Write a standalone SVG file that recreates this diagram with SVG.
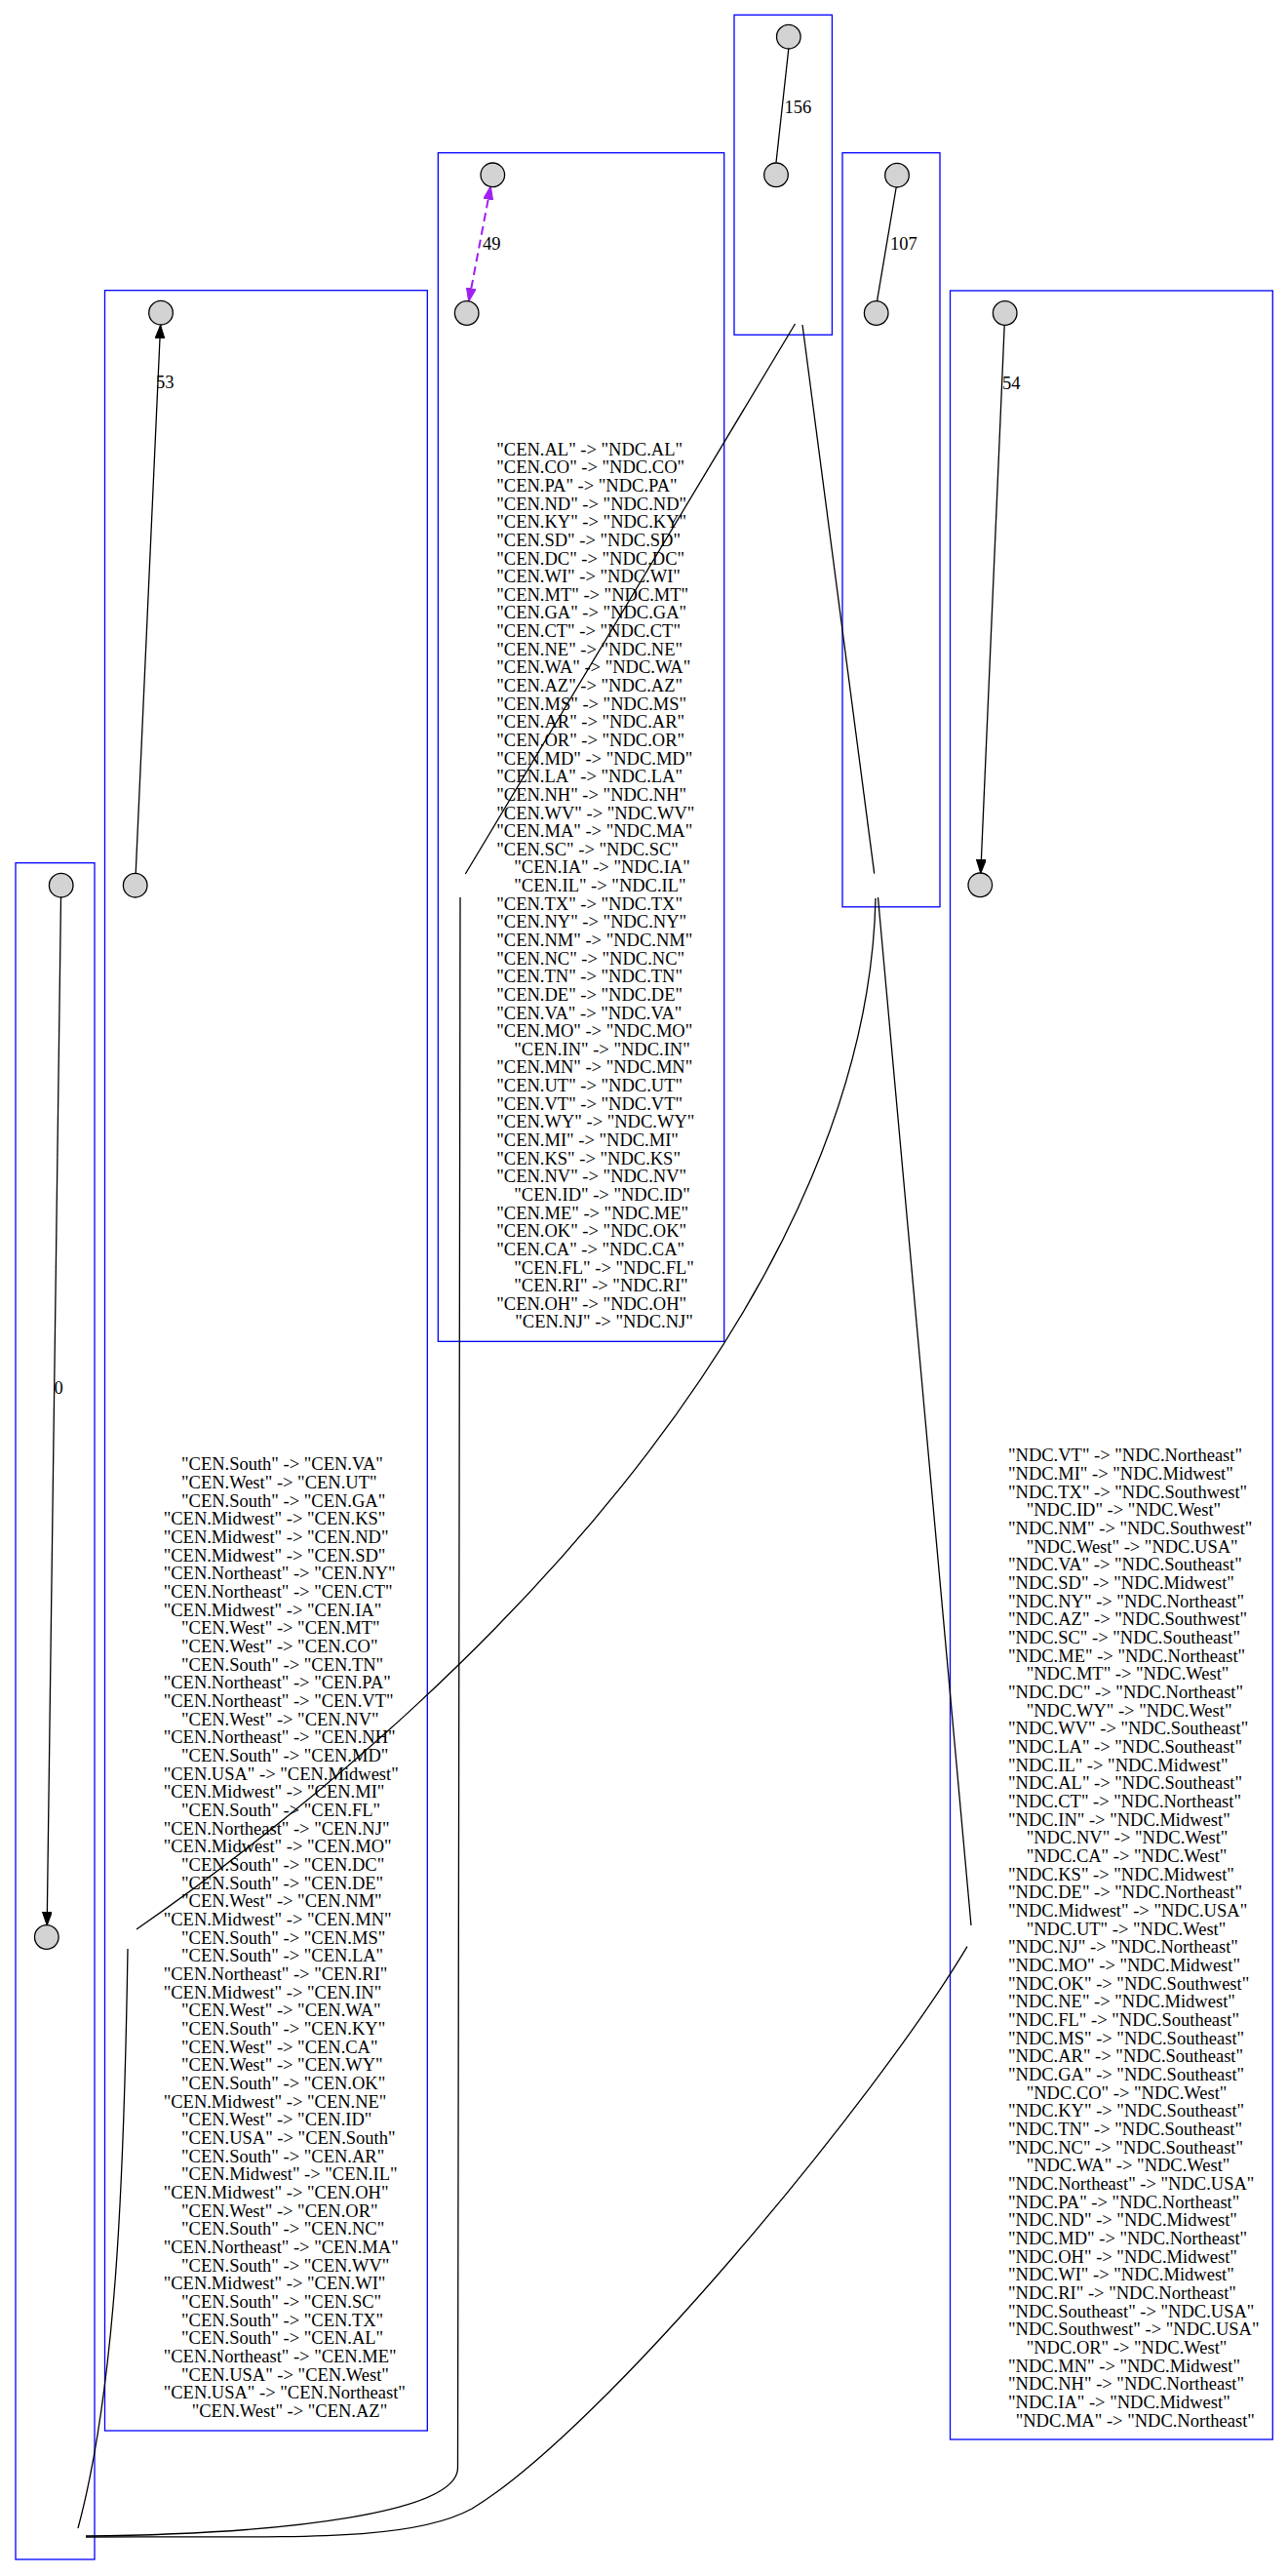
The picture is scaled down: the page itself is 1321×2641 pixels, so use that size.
<svg xmlns="http://www.w3.org/2000/svg" width="1321" height="2641" viewBox="0 0 1321 2641">
<style>
.cl{fill:none;stroke:#0000ff;stroke-width:1.3}
.nd{fill:#d3d3d3;stroke:#000;stroke-width:1.3}
.ed{fill:none;stroke:#000;stroke-width:1.3}
.pu{fill:none;stroke:#a020f0;stroke-width:2;stroke-dasharray:9,5}
.t{font-family:"Liberation Serif","Times New Roman",serif;font-size:18.5px;fill:#000}
</style>
<defs>
<marker id="arr" viewBox="0 0 14 10" refX="14" refY="5" markerWidth="14" markerHeight="10" markerUnits="userSpaceOnUse" orient="auto"><path d="M0,0 L14,5 L0,10 z" fill="#000" stroke="#000" stroke-width="1"/></marker>
<marker id="parr" viewBox="0 0 14 10" refX="14" refY="5" markerWidth="14" markerHeight="10" markerUnits="userSpaceOnUse" orient="auto-start-reverse"><path d="M0,0 L14,5 L0,10 z" fill="#a020f0" stroke="#a020f0" stroke-width="1"/></marker>
</defs>
<rect width="1321" height="2641" fill="#fff"/>
<g id="clusters">
<rect id="cluster_A" class="cl" x="16" y="884.7" width="81" height="1739.3"/>
<rect id="cluster_53" class="cl" x="107.5" y="297.7" width="330.8" height="2194.3"/>
<rect id="cluster_B" class="cl" x="449.3" y="156.7" width="293.4" height="1218.6"/>
<rect id="cluster_156" class="cl" x="753" y="15.3" width="100.4" height="328"/>
<rect id="cluster_107" class="cl" x="864" y="156.7" width="100" height="773.1"/>
<rect id="cluster_NDC" class="cl" x="974.5" y="298" width="330.8" height="2203"/>
</g>
<g id="connectors">
<path class="ed" d="M808.8,50 L796,166.8"/>
<path class="ed" d="M919.2,192 L899.5,308.8"/>
<path class="pu" d="M503.3,190.7 L480.7,309.3" marker-start="url(#parr)" marker-end="url(#parr)"/>
<path class="ed" d="M139.2,895.5 L164.6,333.3" marker-end="url(#arr)"/>
<path class="ed" d="M1030.2,333.3 L1005.8,895.3" marker-end="url(#arr)"/>
<path class="ed" d="M62.5,920 L48.2,1974" marker-end="url(#arr)"/>
<path class="ed" d="M815.5,332 L477.3,896"/>
<path class="ed" d="M472,920 L469.5,2530 C469.5,2575 300,2598 88,2600"/>
<path class="ed" d="M823,333 L896.7,895.7"/>
<path class="ed" d="M898,921 C890,1300 540,1700 140,1978"/>
<path class="ed" d="M131,1998 C127,2250 118,2450 80,2592"/>
<path class="ed" d="M900.5,920 L996,1974"/>
<path class="ed" d="M992,1995.7 C900,2150 620,2490 484,2572 C420,2607 300,2600 88,2601"/>
<text class="t" x="804.5" y="115.5">156</text>
<text class="t" x="495" y="256">49</text>
<text class="t" x="913" y="256">107</text>
<text class="t" x="160" y="398">53</text>
<text class="t" x="1028" y="398.5">54</text>
<text class="t" x="55.5" y="1429">0</text>
</g>
<g id="n156a"><circle class="nd" cx="808.8" cy="37.7" r="12.3"/></g>
<g id="n156b"><circle class="nd" cx="796" cy="179.3" r="12.3"/></g>
<g id="n49a"><circle class="nd" cx="505.3" cy="179.3" r="12.3"/></g>
<g id="n49b"><circle class="nd" cx="478.7" cy="321" r="12.3"/></g>
<g id="n107a"><circle class="nd" cx="920" cy="179.7" r="12.3"/></g>
<g id="n107b"><circle class="nd" cx="898.7" cy="321" r="12.3"/></g>
<g id="n53a"><circle class="nd" cx="165" cy="320.7" r="12.3"/></g>
<g id="n53b"><circle class="nd" cx="138.7" cy="907.7" r="12.3"/></g>
<g id="n54a"><circle class="nd" cx="1030.7" cy="321" r="12.3"/></g>
<g id="n54b"><circle class="nd" cx="1005.3" cy="907.3" r="12.3"/></g>
<g id="n0a"><circle class="nd" cx="62.7" cy="907.7" r="12.3"/></g>
<g id="n0b"><circle class="nd" cx="47.8" cy="1986" r="12.3"/></g>
<g id="label_CEN_NDC">
<text class="t" y="466.7">
<tspan x="509.3">"CEN.AL" -&gt; "NDC.AL"</tspan>
<tspan x="509.3" dy="18.64">"CEN.CO" -&gt; "NDC.CO"</tspan>
<tspan x="509.3" dy="18.64">"CEN.PA" -&gt; "NDC.PA"</tspan>
<tspan x="509.3" dy="18.64">"CEN.ND" -&gt; "NDC.ND"</tspan>
<tspan x="509.3" dy="18.64">"CEN.KY" -&gt; "NDC.KY"</tspan>
<tspan x="509.3" dy="18.64">"CEN.SD" -&gt; "NDC.SD"</tspan>
<tspan x="509.3" dy="18.64">"CEN.DC" -&gt; "NDC.DC"</tspan>
<tspan x="509.3" dy="18.64">"CEN.WI" -&gt; "NDC.WI"</tspan>
<tspan x="509.3" dy="18.64">"CEN.MT" -&gt; "NDC.MT"</tspan>
<tspan x="509.3" dy="18.64">"CEN.GA" -&gt; "NDC.GA"</tspan>
<tspan x="509.3" dy="18.64">"CEN.CT" -&gt; "NDC.CT"</tspan>
<tspan x="509.3" dy="18.64">"CEN.NE" -&gt; "NDC.NE"</tspan>
<tspan x="509.3" dy="18.64">"CEN.WA" -&gt; "NDC.WA"</tspan>
<tspan x="509.3" dy="18.64">"CEN.AZ" -&gt; "NDC.AZ"</tspan>
<tspan x="509.3" dy="18.64">"CEN.MS" -&gt; "NDC.MS"</tspan>
<tspan x="509.3" dy="18.64">"CEN.AR" -&gt; "NDC.AR"</tspan>
<tspan x="509.3" dy="18.64">"CEN.OR" -&gt; "NDC.OR"</tspan>
<tspan x="509.3" dy="18.64">"CEN.MD" -&gt; "NDC.MD"</tspan>
<tspan x="509.3" dy="18.64">"CEN.LA" -&gt; "NDC.LA"</tspan>
<tspan x="509.3" dy="18.64">"CEN.NH" -&gt; "NDC.NH"</tspan>
<tspan x="509.3" dy="18.64">"CEN.WV" -&gt; "NDC.WV"</tspan>
<tspan x="509.3" dy="18.64">"CEN.MA" -&gt; "NDC.MA"</tspan>
<tspan x="509.3" dy="18.64">"CEN.SC" -&gt; "NDC.SC"</tspan>
<tspan x="527.3" dy="18.64">"CEN.IA" -&gt; "NDC.IA"</tspan>
<tspan x="527.3" dy="18.64">"CEN.IL" -&gt; "NDC.IL"</tspan>
<tspan x="509.3" dy="18.64">"CEN.TX" -&gt; "NDC.TX"</tspan>
<tspan x="509.3" dy="18.64">"CEN.NY" -&gt; "NDC.NY"</tspan>
<tspan x="509.3" dy="18.64">"CEN.NM" -&gt; "NDC.NM"</tspan>
<tspan x="509.3" dy="18.64">"CEN.NC" -&gt; "NDC.NC"</tspan>
<tspan x="509.3" dy="18.64">"CEN.TN" -&gt; "NDC.TN"</tspan>
<tspan x="509.3" dy="18.64">"CEN.DE" -&gt; "NDC.DE"</tspan>
<tspan x="509.3" dy="18.64">"CEN.VA" -&gt; "NDC.VA"</tspan>
<tspan x="509.3" dy="18.64">"CEN.MO" -&gt; "NDC.MO"</tspan>
<tspan x="527.3" dy="18.64">"CEN.IN" -&gt; "NDC.IN"</tspan>
<tspan x="509.3" dy="18.64">"CEN.MN" -&gt; "NDC.MN"</tspan>
<tspan x="509.3" dy="18.64">"CEN.UT" -&gt; "NDC.UT"</tspan>
<tspan x="509.3" dy="18.64">"CEN.VT" -&gt; "NDC.VT"</tspan>
<tspan x="509.3" dy="18.64">"CEN.WY" -&gt; "NDC.WY"</tspan>
<tspan x="509.3" dy="18.64">"CEN.MI" -&gt; "NDC.MI"</tspan>
<tspan x="509.3" dy="18.64">"CEN.KS" -&gt; "NDC.KS"</tspan>
<tspan x="509.3" dy="18.64">"CEN.NV" -&gt; "NDC.NV"</tspan>
<tspan x="527.3" dy="18.64">"CEN.ID" -&gt; "NDC.ID"</tspan>
<tspan x="509.3" dy="18.64">"CEN.ME" -&gt; "NDC.ME"</tspan>
<tspan x="509.3" dy="18.64">"CEN.OK" -&gt; "NDC.OK"</tspan>
<tspan x="509.3" dy="18.64">"CEN.CA" -&gt; "NDC.CA"</tspan>
<tspan x="527.3" dy="18.64">"CEN.FL" -&gt; "NDC.FL"</tspan>
<tspan x="527.3" dy="18.64">"CEN.RI" -&gt; "NDC.RI"</tspan>
<tspan x="509.3" dy="18.64">"CEN.OH" -&gt; "NDC.OH"</tspan>
<tspan x="528.3" dy="18.64">"CEN.NJ" -&gt; "NDC.NJ"</tspan>
</text>
</g>
<g id="label_CEN">
<text class="t" y="1507.3">
<tspan x="186">"CEN.South" -&gt; "CEN.VA"</tspan>
<tspan x="186" dy="18.67">"CEN.West" -&gt; "CEN.UT"</tspan>
<tspan x="186" dy="18.67">"CEN.South" -&gt; "CEN.GA"</tspan>
<tspan x="167.7" dy="18.67">"CEN.Midwest" -&gt; "CEN.KS"</tspan>
<tspan x="167.7" dy="18.67">"CEN.Midwest" -&gt; "CEN.ND"</tspan>
<tspan x="167.7" dy="18.67">"CEN.Midwest" -&gt; "CEN.SD"</tspan>
<tspan x="167.7" dy="18.67">"CEN.Northeast" -&gt; "CEN.NY"</tspan>
<tspan x="167.7" dy="18.67">"CEN.Northeast" -&gt; "CEN.CT"</tspan>
<tspan x="167.7" dy="18.67">"CEN.Midwest" -&gt; "CEN.IA"</tspan>
<tspan x="186" dy="18.67">"CEN.West" -&gt; "CEN.MT"</tspan>
<tspan x="186" dy="18.67">"CEN.West" -&gt; "CEN.CO"</tspan>
<tspan x="186" dy="18.67">"CEN.South" -&gt; "CEN.TN"</tspan>
<tspan x="167.7" dy="18.67">"CEN.Northeast" -&gt; "CEN.PA"</tspan>
<tspan x="167.7" dy="18.67">"CEN.Northeast" -&gt; "CEN.VT"</tspan>
<tspan x="186" dy="18.67">"CEN.West" -&gt; "CEN.NV"</tspan>
<tspan x="167.7" dy="18.67">"CEN.Northeast" -&gt; "CEN.NH"</tspan>
<tspan x="186" dy="18.67">"CEN.South" -&gt; "CEN.MD"</tspan>
<tspan x="167.7" dy="18.67">"CEN.USA" -&gt; "CEN.Midwest"</tspan>
<tspan x="167.7" dy="18.67">"CEN.Midwest" -&gt; "CEN.MI"</tspan>
<tspan x="186" dy="18.67">"CEN.South" -&gt; "CEN.FL"</tspan>
<tspan x="167.7" dy="18.67">"CEN.Northeast" -&gt; "CEN.NJ"</tspan>
<tspan x="167.7" dy="18.67">"CEN.Midwest" -&gt; "CEN.MO"</tspan>
<tspan x="186" dy="18.67">"CEN.South" -&gt; "CEN.DC"</tspan>
<tspan x="186" dy="18.67">"CEN.South" -&gt; "CEN.DE"</tspan>
<tspan x="186" dy="18.67">"CEN.West" -&gt; "CEN.NM"</tspan>
<tspan x="167.7" dy="18.67">"CEN.Midwest" -&gt; "CEN.MN"</tspan>
<tspan x="186" dy="18.67">"CEN.South" -&gt; "CEN.MS"</tspan>
<tspan x="186" dy="18.67">"CEN.South" -&gt; "CEN.LA"</tspan>
<tspan x="167.7" dy="18.67">"CEN.Northeast" -&gt; "CEN.RI"</tspan>
<tspan x="167.7" dy="18.67">"CEN.Midwest" -&gt; "CEN.IN"</tspan>
<tspan x="186" dy="18.67">"CEN.West" -&gt; "CEN.WA"</tspan>
<tspan x="186" dy="18.67">"CEN.South" -&gt; "CEN.KY"</tspan>
<tspan x="186" dy="18.67">"CEN.West" -&gt; "CEN.CA"</tspan>
<tspan x="186" dy="18.67">"CEN.West" -&gt; "CEN.WY"</tspan>
<tspan x="186" dy="18.67">"CEN.South" -&gt; "CEN.OK"</tspan>
<tspan x="167.7" dy="18.67">"CEN.Midwest" -&gt; "CEN.NE"</tspan>
<tspan x="186" dy="18.67">"CEN.West" -&gt; "CEN.ID"</tspan>
<tspan x="186" dy="18.67">"CEN.USA" -&gt; "CEN.South"</tspan>
<tspan x="186" dy="18.67">"CEN.South" -&gt; "CEN.AR"</tspan>
<tspan x="186" dy="18.67">"CEN.Midwest" -&gt; "CEN.IL"</tspan>
<tspan x="167.7" dy="18.67">"CEN.Midwest" -&gt; "CEN.OH"</tspan>
<tspan x="186" dy="18.67">"CEN.West" -&gt; "CEN.OR"</tspan>
<tspan x="186" dy="18.67">"CEN.South" -&gt; "CEN.NC"</tspan>
<tspan x="167.7" dy="18.67">"CEN.Northeast" -&gt; "CEN.MA"</tspan>
<tspan x="186" dy="18.67">"CEN.South" -&gt; "CEN.WV"</tspan>
<tspan x="167.7" dy="18.67">"CEN.Midwest" -&gt; "CEN.WI"</tspan>
<tspan x="186" dy="18.67">"CEN.South" -&gt; "CEN.SC"</tspan>
<tspan x="186" dy="18.67">"CEN.South" -&gt; "CEN.TX"</tspan>
<tspan x="186" dy="18.67">"CEN.South" -&gt; "CEN.AL"</tspan>
<tspan x="167.7" dy="18.67">"CEN.Northeast" -&gt; "CEN.ME"</tspan>
<tspan x="186" dy="18.67">"CEN.USA" -&gt; "CEN.West"</tspan>
<tspan x="167.7" dy="18.67">"CEN.USA" -&gt; "CEN.Northeast"</tspan>
<tspan x="196.7" dy="18.67">"CEN.West" -&gt; "CEN.AZ"</tspan>
</text>
</g>
<g id="label_NDC">
<text class="t" y="1498.3">
<tspan x="1034">"NDC.VT" -&gt; "NDC.Northeast"</tspan>
<tspan x="1034" dy="18.67">"NDC.MI" -&gt; "NDC.Midwest"</tspan>
<tspan x="1034" dy="18.67">"NDC.TX" -&gt; "NDC.Southwest"</tspan>
<tspan x="1052.7" dy="18.67">"NDC.ID" -&gt; "NDC.West"</tspan>
<tspan x="1034" dy="18.67">"NDC.NM" -&gt; "NDC.Southwest"</tspan>
<tspan x="1052.7" dy="18.67">"NDC.West" -&gt; "NDC.USA"</tspan>
<tspan x="1034" dy="18.67">"NDC.VA" -&gt; "NDC.Southeast"</tspan>
<tspan x="1034" dy="18.67">"NDC.SD" -&gt; "NDC.Midwest"</tspan>
<tspan x="1034" dy="18.67">"NDC.NY" -&gt; "NDC.Northeast"</tspan>
<tspan x="1034" dy="18.67">"NDC.AZ" -&gt; "NDC.Southwest"</tspan>
<tspan x="1034" dy="18.67">"NDC.SC" -&gt; "NDC.Southeast"</tspan>
<tspan x="1034" dy="18.67">"NDC.ME" -&gt; "NDC.Northeast"</tspan>
<tspan x="1052.7" dy="18.67">"NDC.MT" -&gt; "NDC.West"</tspan>
<tspan x="1034" dy="18.67">"NDC.DC" -&gt; "NDC.Northeast"</tspan>
<tspan x="1052.7" dy="18.67">"NDC.WY" -&gt; "NDC.West"</tspan>
<tspan x="1034" dy="18.67">"NDC.WV" -&gt; "NDC.Southeast"</tspan>
<tspan x="1034" dy="18.67">"NDC.LA" -&gt; "NDC.Southeast"</tspan>
<tspan x="1034" dy="18.67">"NDC.IL" -&gt; "NDC.Midwest"</tspan>
<tspan x="1034" dy="18.67">"NDC.AL" -&gt; "NDC.Southeast"</tspan>
<tspan x="1034" dy="18.67">"NDC.CT" -&gt; "NDC.Northeast"</tspan>
<tspan x="1034" dy="18.67">"NDC.IN" -&gt; "NDC.Midwest"</tspan>
<tspan x="1052.7" dy="18.67">"NDC.NV" -&gt; "NDC.West"</tspan>
<tspan x="1052.7" dy="18.67">"NDC.CA" -&gt; "NDC.West"</tspan>
<tspan x="1034" dy="18.67">"NDC.KS" -&gt; "NDC.Midwest"</tspan>
<tspan x="1034" dy="18.67">"NDC.DE" -&gt; "NDC.Northeast"</tspan>
<tspan x="1034" dy="18.67">"NDC.Midwest" -&gt; "NDC.USA"</tspan>
<tspan x="1052.7" dy="18.67">"NDC.UT" -&gt; "NDC.West"</tspan>
<tspan x="1034" dy="18.67">"NDC.NJ" -&gt; "NDC.Northeast"</tspan>
<tspan x="1034" dy="18.67">"NDC.MO" -&gt; "NDC.Midwest"</tspan>
<tspan x="1034" dy="18.67">"NDC.OK" -&gt; "NDC.Southwest"</tspan>
<tspan x="1034" dy="18.67">"NDC.NE" -&gt; "NDC.Midwest"</tspan>
<tspan x="1034" dy="18.67">"NDC.FL" -&gt; "NDC.Southeast"</tspan>
<tspan x="1034" dy="18.67">"NDC.MS" -&gt; "NDC.Southeast"</tspan>
<tspan x="1034" dy="18.67">"NDC.AR" -&gt; "NDC.Southeast"</tspan>
<tspan x="1034" dy="18.67">"NDC.GA" -&gt; "NDC.Southeast"</tspan>
<tspan x="1052.7" dy="18.67">"NDC.CO" -&gt; "NDC.West"</tspan>
<tspan x="1034" dy="18.67">"NDC.KY" -&gt; "NDC.Southeast"</tspan>
<tspan x="1034" dy="18.67">"NDC.TN" -&gt; "NDC.Southeast"</tspan>
<tspan x="1034" dy="18.67">"NDC.NC" -&gt; "NDC.Southeast"</tspan>
<tspan x="1052.7" dy="18.67">"NDC.WA" -&gt; "NDC.West"</tspan>
<tspan x="1034" dy="18.67">"NDC.Northeast" -&gt; "NDC.USA"</tspan>
<tspan x="1034" dy="18.67">"NDC.PA" -&gt; "NDC.Northeast"</tspan>
<tspan x="1034" dy="18.67">"NDC.ND" -&gt; "NDC.Midwest"</tspan>
<tspan x="1034" dy="18.67">"NDC.MD" -&gt; "NDC.Northeast"</tspan>
<tspan x="1034" dy="18.67">"NDC.OH" -&gt; "NDC.Midwest"</tspan>
<tspan x="1034" dy="18.67">"NDC.WI" -&gt; "NDC.Midwest"</tspan>
<tspan x="1034" dy="18.67">"NDC.RI" -&gt; "NDC.Northeast"</tspan>
<tspan x="1034" dy="18.67">"NDC.Southeast" -&gt; "NDC.USA"</tspan>
<tspan x="1034" dy="18.67">"NDC.Southwest" -&gt; "NDC.USA"</tspan>
<tspan x="1052.7" dy="18.67">"NDC.OR" -&gt; "NDC.West"</tspan>
<tspan x="1034" dy="18.67">"NDC.MN" -&gt; "NDC.Midwest"</tspan>
<tspan x="1034" dy="18.67">"NDC.NH" -&gt; "NDC.Northeast"</tspan>
<tspan x="1034" dy="18.67">"NDC.IA" -&gt; "NDC.Midwest"</tspan>
<tspan x="1041.7" dy="18.67">"NDC.MA" -&gt; "NDC.Northeast"</tspan>
</text>
</g>
</svg>
